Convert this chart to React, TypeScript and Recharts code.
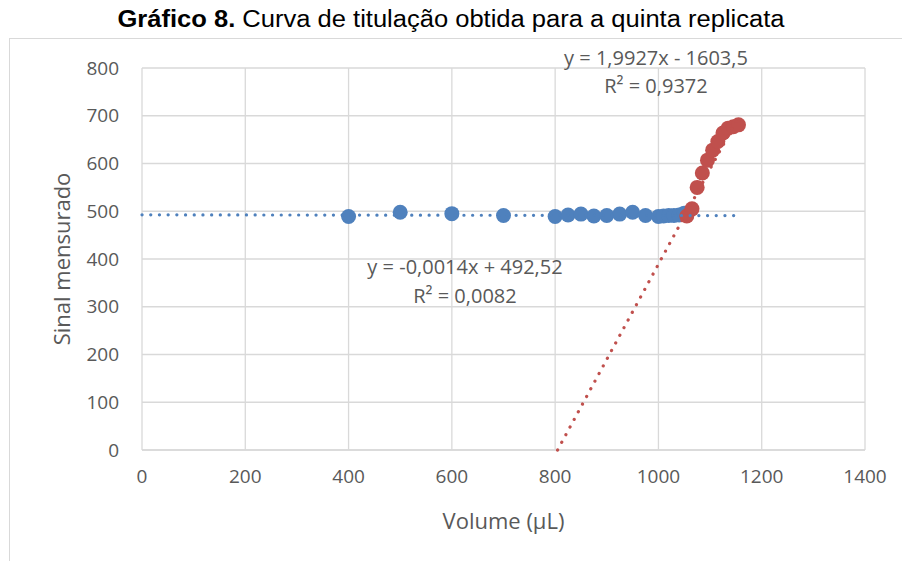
import { CartesianGrid, Scatter, ScatterChart, XAxis, YAxis } from "recharts"

// Pontos da titulação (volume em µL, sinal mensurado)
const blueX = [400, 500, 600, 700, 800, 825, 850, 875, 900, 925, 950, 975, 1000, 1010, 1020, 1030, 1040, 1050]
const blueY = [489, 498, 495, 491, 489, 492, 494, 490, 491, 494, 498, 491, 489, 490, 491, 491, 492, 496]
const redX = [1055, 1065, 1075, 1085, 1095, 1105, 1115, 1125, 1135, 1145, 1155]
const redY = [490, 505, 550, 580, 607, 628, 646, 664, 674, 677, 681]

// Coeficientes das retas de tendência
const blueSlope = -0.0014
const blueIntercept = 492.52
const redSlope = 1.9927
const redIntercept = -1603.5
const trendEnd = 1155

const xTicks = [0, 200, 400, 600, 800, 1000, 1200, 1400]
const yTicks = [0, 100, 200, 300, 400, 500, 600, 700, 800]

const blueEq = ["y = -0,0014x + 492,52", "R² = 0,0082"]
const redEq = ["y = 1,9927x - 1603,5", "R² = 0,9372"]

const BLUE = "#4f81bd"
const RED = "#c0504d"
const GRID = "#d9d9d9"
const TEXT = "#595959"
const FONT = "'Open Sans', sans-serif"

const bluePoints = blueX.map((x, i) => ({ x, y: blueY[i] }))
const redPoints = redX.map((x, i) => ({ x, y: redY[i] }))
const blueTrend = [0, trendEnd].map(x => ({ x, y: blueSlope * x + blueIntercept }))
const redTrend = [-redIntercept / redSlope, trendEnd].map(x => ({ x, y: redSlope * x + redIntercept }))

const dot = (color: string) => (props: any) => (
    <circle cx={props.cx} cy={props.cy} r={7.5} fill={color} />
)

const noDot = () => <g />

const dotted = (color: string) => ({
    stroke: color,
    strokeWidth: 3.2,
    strokeDasharray: "0.1 8.6",
    strokeLinecap: "round" as const,
    fill: "none",
})

export default function App() {
    return (
        <div style={{ position: "absolute", left: 0, top: 0, width: 902, height: 561, overflow: "hidden", background: "#fff" }}>
            <div style={{ position: "absolute", left: 9, top: 38, width: 1000, height: 600, border: `1px solid ${GRID}` }} />
            <ScatterChart width={902} height={561} margin={{ top: 68, right: 37, bottom: 26, left: 42 }} style={{ position: "absolute", left: 0, top: 0 }}>
                <CartesianGrid stroke={GRID} strokeWidth={1.3} />
                <XAxis
                    type="number"
                    dataKey="x"
                    domain={[0, 1400]}
                    ticks={xTicks}
                    height={85}
                    axisLine={{ stroke: GRID, strokeWidth: 1.3 }}
                    tickLine={false}
                    tickSize={0}
                    tickMargin={20}
                    tick={{ fill: TEXT, fontSize: 19, fontFamily: FONT }}
                    label={{ value: "Volume (µL)", position: "insideBottom", offset: 6, fill: TEXT, fontSize: 22, fontFamily: FONT }}
                />
                <YAxis
                    type="number"
                    dataKey="y"
                    domain={[0, 800]}
                    ticks={yTicks}
                    width={100}
                    axisLine={false}
                    tickLine={false}
                    tickSize={0}
                    tickMargin={23}
                    tick={{ fill: TEXT, fontSize: 19, fontFamily: FONT }}
                    label={{ value: "Sinal mensurado", angle: -90, position: "insideLeft", offset: 20, fill: TEXT, fontSize: 22, fontFamily: FONT, style: { textAnchor: "middle" } }}
                />
                <Scatter data={bluePoints} fill={BLUE} shape={dot(BLUE)} isAnimationActive={false} />
                <Scatter data={redPoints} fill={RED} shape={dot(RED)} isAnimationActive={false} />
                <Scatter data={blueTrend} line={dotted(BLUE)} shape={noDot} isAnimationActive={false} />
                <Scatter data={redTrend} line={dotted(RED)} shape={noDot} isAnimationActive={false} />
            </ScatterChart>
            <svg width={902} height={561} style={{ position: "absolute", left: 0, top: 0, pointerEvents: "none" }}>
                <text x={451} y={27} textAnchor="middle" fontSize={23} fontFamily="'Liberation Sans', Arial, sans-serif" fill="#000" textLength={667} lengthAdjust="spacingAndGlyphs">
                    <tspan fontWeight="bold">Gráfico 8.</tspan>
                    <tspan> Curva de titulação obtida para a quinta replicata</tspan>
                </text>
                <g fill={TEXT} fontSize={20} fontFamily={FONT} textAnchor="middle">
                    <text x={656} y={65}>{redEq[0]}</text>
                    <text x={656} y={93}>{redEq[1]}</text>
                    <text x={465} y={274}>{blueEq[0]}</text>
                    <text x={465} y={303}>{blueEq[1]}</text>
                </g>
            </svg>
        </div>
    )
}
